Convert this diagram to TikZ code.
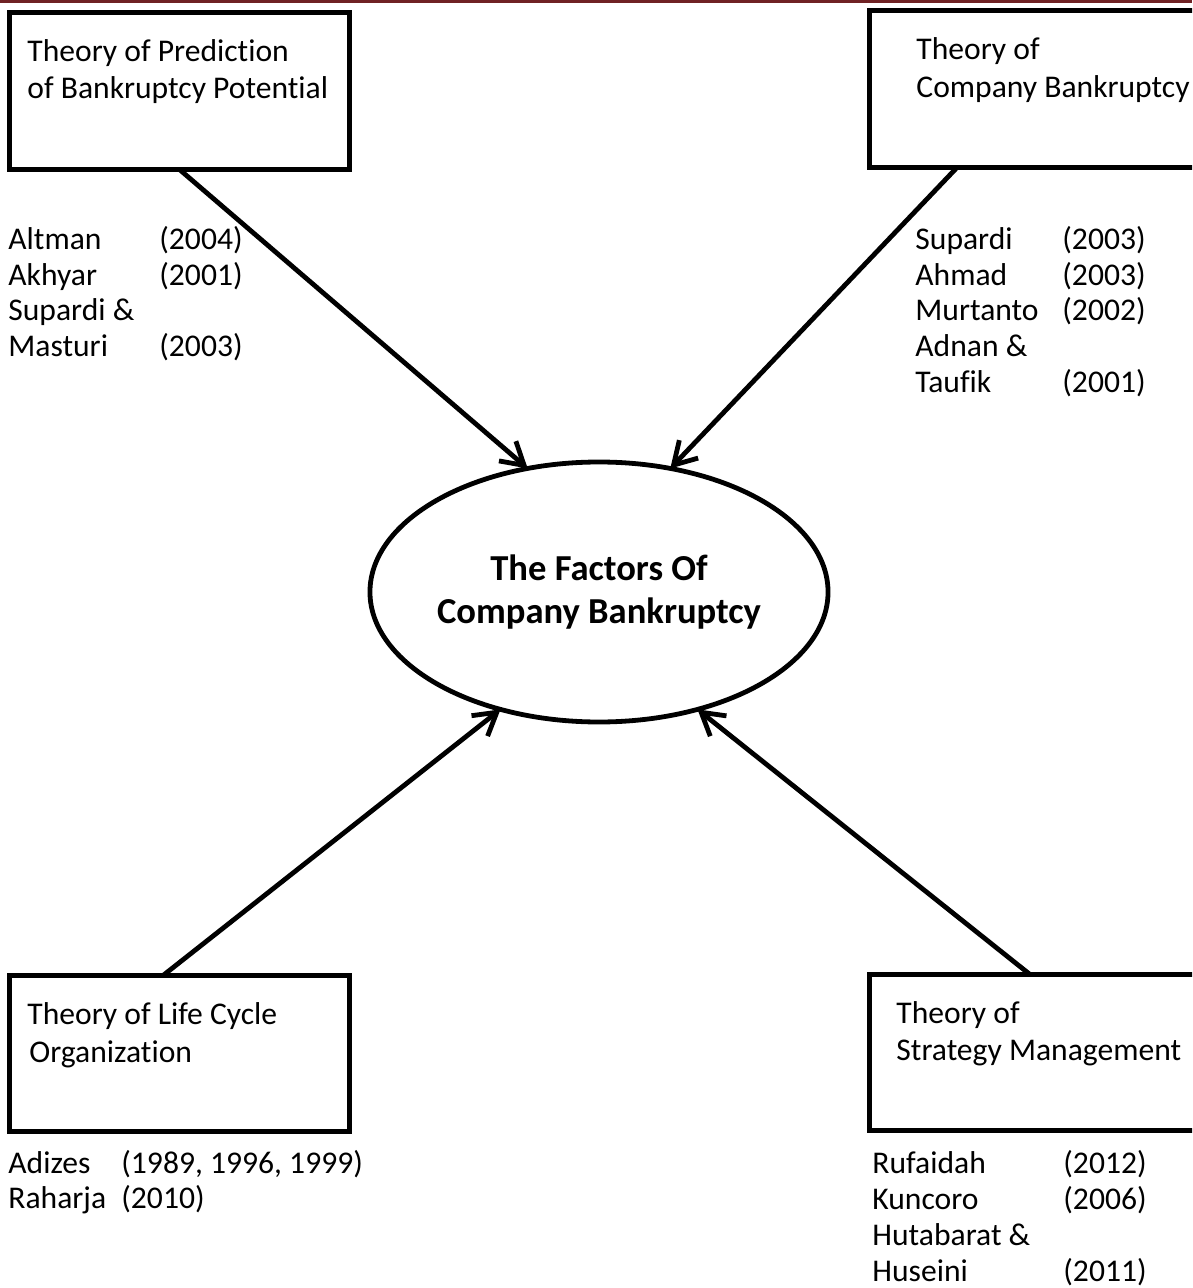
\documentclass[tikz,border=0pt]{standalone}
\usepackage{fontspec}
\setmainfont{Carlito}[Ligatures=NoCommon]
\usetikzlibrary{arrows.meta,shapes.geometric}
\definecolor{topred}{RGB}{112,34,36}
\tikzset{
  theorybox/.style={draw, line width=2.5pt, rectangle, inner sep=0pt, outer sep=0pt},
  boxtext/.style={anchor=base west, inner sep=0pt, font=\fontsize{15.8pt}{19pt}\selectfont},
  cite/.style={anchor=base west, inner sep=0pt, font=\fontsize{15.8pt}{18pt}\selectfont},
  factors/.style={draw, ellipse, line width=2.4pt, inner sep=0pt, outer sep=0pt,
    minimum width=224pt, minimum height=130pt, align=center,
    font=\fontsize{18.3pt}{21.5pt}\selectfont\bfseries},
  arr/.style={line width=2.4pt, line cap=round, -{Straight Barb[length=11pt,width=13pt]}}
}
\begin{document}
\begin{tikzpicture}[x=0.5pt,y=-0.5pt]
\useasboundingbox (0,0) rectangle (1192,1288);
\clip (0,0) rectangle (1192,1288);
\fill[topred] (0,0) rectangle (1192,3);

% boxes
\node[theorybox, minimum width=170pt, minimum height=78.5pt] (b1) at (179.5,91) {};
\node[theorybox, minimum width=170pt, minimum height=78.5pt] (b2) at (1039.5,89) {};
\node[theorybox, minimum width=170pt, minimum height=78pt] (b3) at (179.5,1053.5) {};
\node[theorybox, minimum width=170pt, minimum height=78pt] (b4) at (1039.5,1052.5) {};

% box texts
\node[boxtext] (t1a) at (27,62) {Theory of Prediction};
\node[boxtext] (t1b) at (27,99) {of Bankruptcy Potential};
\node[boxtext] (t2a) at (916,60) {Theory of};
\node[boxtext] (t2b) at (916,98) {Company Bankruptcy};
\node[boxtext] (t3a) at (27,1024) {Theory of Life Cycle};
\node[boxtext] (t3b) at (29,1062) {Organization};
\node[boxtext] (t4a) at (896,1023) {Theory of};
\node[boxtext] (t4b) at (896,1060) {Strategy Management};

% ellipse
\node[factors] (e) at (599,592) {The Factors Of\\Company Bankruptcy};

% citations top-left
\node[cite] (c1n1) at (8,250) {Altman};   \node[cite] (c1y1) at (159,250) {(2004)};
\node[cite] (c1n2) at (8,286) {Akhyar};   \node[cite] (c1y2) at (159,286) {(2001)};
\node[cite] (c1n3) at (8,321) {Supardi \&};
\node[cite] (c1n4) at (8,357) {Masturi};  \node[cite] (c1y4) at (159,357) {(2003)};

% citations top-right
\node[cite] (c2n1) at (915,250) {Supardi};  \node[cite] (c2y1) at (1062,250) {(2003)};
\node[cite] (c2n2) at (915,286) {Ahmad};    \node[cite] (c2y2) at (1062,286) {(2003)};
\node[cite] (c2n3) at (915,321) {Murtanto}; \node[cite] (c2y3) at (1062,321) {(2002)};
\node[cite] (c2n4) at (915,357) {Adnan \&};
\node[cite] (c2n5) at (915,393) {Taufik};   \node[cite] (c2y5) at (1062,393) {(2001)};

% citations bottom-left
\node[cite] (c3n1) at (8,1173) {Adizes};  \node[cite] (c3y1) at (121,1173) {(1989, 1996, 1999)};
\node[cite] (c3n2) at (8,1208) {Raharja}; \node[cite] (c3y2) at (121,1208) {(2010)};

% citations bottom-right
\node[cite] (c4n1) at (872,1173) {Rufaidah};    \node[cite] (c4y1) at (1063,1173) {(2012)};
\node[cite] (c4n2) at (872,1209) {Kuncoro};     \node[cite] (c4y2) at (1063,1209) {(2006)};
\node[cite] (c4n3) at (872,1245) {Hutabarat \&};
\node[cite] (c4n4) at (872,1281) {Huseini};     \node[cite] (c4y4) at (1063,1281) {(2011)};

% connectors
\draw[arr] (b1.south) -- (e.120.6);
\draw[arr] ([xshift=-41.25pt]b2.south) -- (e.60.5);
\draw[arr] ([xshift=-8.25pt]b3.north) -- (e.230.5);
\draw[arr] ([xshift=-4.75pt]b4.north) -- (e.310.1);
\end{tikzpicture}
\end{document}
